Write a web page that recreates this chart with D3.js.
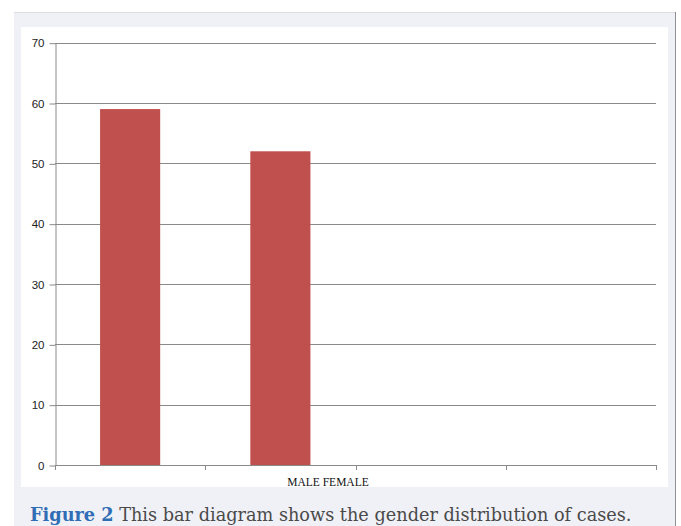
<!DOCTYPE html>
<html>
<head>
<meta charset="utf-8">
<script src="https://cdn.jsdelivr.net/npm/d3@7"></script>
<style>
html,body{margin:0;padding:0;background:#fff;}
svg{display:block;}
</style>
</head>
<body>
<script>
const slots = ["s1", "s2", "s3", "s4"];
const categories = ["MALE", "FEMALE"];
const values = [59, 52];
const yTicks = [0, 10, 20, 30, 40, 50, 60, 70];
const axisLabel = "MALE FEMALE";
const captionBold = "Figure 2";
const captionText = " This bar diagram shows the gender distribution of cases.";

const W = 681, H = 526;
const svg = d3.select("body").append("svg").attr("width", W).attr("height", H);

// outer figure panel
svg.append("rect").attr("x", 14).attr("y", 12).attr("width", 661).attr("height", 530)
  .attr("fill", "#f0f1f6");
svg.append("line").attr("x1", 14).attr("x2", 675).attr("y1", 12.5).attr("y2", 12.5)
  .attr("stroke", "#dcdde2");
svg.append("line").attr("x1", 675.5).attr("x2", 675.5).attr("y1", 12).attr("y2", 526)
  .attr("stroke", "#8f9094");
// inner white chart area
svg.append("rect").attr("x", 21).attr("y", 27).attr("width", 647).attr("height", 460)
  .attr("fill", "#ffffff");

const x0 = 55, x1 = 656, yTop = 42.7, yBot = 465;
const x = d3.scaleBand().domain(slots).range([x0, x1]).paddingInner(0.6).paddingOuter(0.3);
const y = d3.scaleLinear().domain([0, 70]).range([yBot, yTop]);

// gridlines
svg.append("g").selectAll("line").data(yTicks.filter(d => d > 0)).join("line")
  .attr("x1", x0).attr("x2", x1)
  .attr("y1", d => Math.round(y(d)) + 0.5).attr("y2", d => Math.round(y(d)) + 0.5)
  .attr("stroke", "#8a8a8a").attr("stroke-width", 1);

// y axis
const yAxis = d3.axisLeft(y).tickValues(yTicks).tickSize(6).tickPadding(5).tickSizeOuter(0);
const gy = svg.append("g").attr("transform", `translate(${x0 + 0.5},0.5)`).call(yAxis);
gy.select(".domain").attr("stroke", "#8a8a8a");
gy.selectAll(".tick line").attr("stroke", "#8a8a8a");
gy.selectAll(".tick text").attr("font-family", "Liberation Sans, Arial, sans-serif")
  .attr("font-size", 11.5).attr("fill", "#222");

// x axis (slot boundaries as ticks)
const bounds = d3.range(slots.length + 1).map(i => x0 + i * x.step());
svg.append("line").attr("x1", x0).attr("x2", x1).attr("y1", yBot + 0.5).attr("y2", yBot + 0.5)
  .attr("stroke", "#8a8a8a");
svg.append("g").selectAll("line").data(bounds).join("line")
  .attr("x1", d => Math.round(d) + 0.5).attr("x2", d => Math.round(d) + 0.5)
  .attr("y1", yBot).attr("y2", yBot + 5)
  .attr("stroke", "#8a8a8a");

// bars
svg.append("g").selectAll("rect").data(values).join("rect")
  .attr("x", (d, i) => x(slots[i]))
  .attr("width", x.bandwidth())
  .attr("y", d => y(d))
  .attr("height", d => yBot - y(d))
  .attr("fill", "#c0504d");

// category label
svg.append("text").attr("x", 328).attr("y", 485.5)
  .attr("text-anchor", "middle")
  .attr("font-family", "Liberation Serif, Times New Roman, serif")
  .attr("font-size", 11.5).attr("fill", "#111")
  .text(axisLabel);

// caption
const cap = svg.append("text").attr("x", 30).attr("y", 521)
  .attr("font-family", "DejaVu Serif, serif").attr("font-size", 17.7).attr("fill", "#4a4a4a");
cap.append("tspan").attr("font-weight", "bold").attr("fill", "#2f6db5").text(captionBold);
cap.append("tspan").text(captionText);
</script>
</body>
</html>
